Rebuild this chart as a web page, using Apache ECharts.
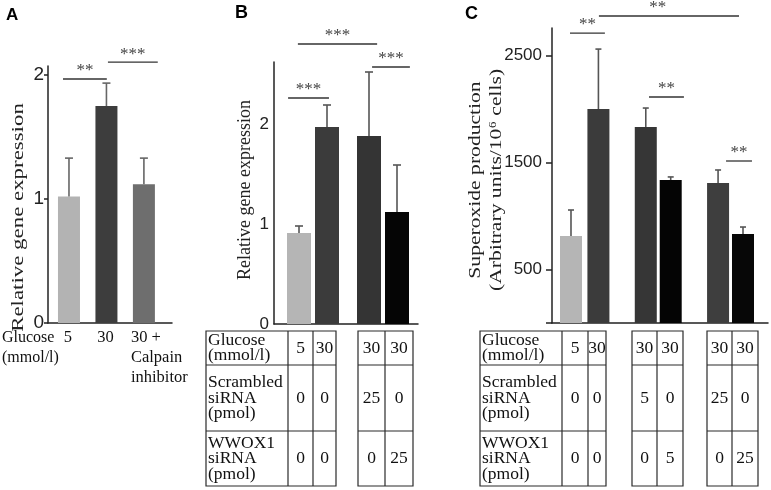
<!DOCTYPE html>
<html><head><meta charset="utf-8">
<script src="https://cdn.jsdelivr.net/npm/echarts@6/dist/echarts.min.js"></script>
<style>html,body{margin:0;padding:0;background:#fff}#c{width:771px;height:490px}</style>
</head><body><div id="c"></div>
<script>
// ================= DATA =================
// Panel A
const catA = ['5', '30', '30 +\nCalpain\ninhibitor'];
const meanA = [1.02, 1.75, 1.12];
const upperA = [1.33, 1.935, 1.33];
const ticksA = [0, 1, 2];
// Panel B
const meanB = [0.91, 1.97, 1.88, 1.12];
const upperB = [0.98, 2.19, 2.52, 1.59];
const ticksB = [0, 1, 2];
// Panel C
const meanC = [813, 2000, 1832, 1336, 1308, 832];
const upperC = [1056, 2560, 2009, 1365, 1430, 897];
const ticksC = [500, 1500, 2500];
// Tables
const rowLabels = ['Glucose\n(mmol/l)', 'Scrambled\nsiRNA\n(pmol)', 'WWOX1\nsiRNA\n(pmol)'];
const glucoseB = ['5', '30', '30', '30'];
const scrambledB = ['0', '0', '25', '0'];
const wwoxB = ['0', '0', '0', '25'];
const glucoseC = ['5', '30', '30', '30', '30', '30'];
const scrambledC = ['0', '0', '5', '0', '25', '0'];
const wwoxC = ['0', '0', '0', '5', '0', '25'];
// Significance marks
const sigTextA = ['**', '***'];
const sigTextB = ['***', '***', '***'];
const sigTextC = ['**', '**', '**', '**'];

// ================= LAYOUT / STYLE =================
const SERIF = '"Liberation Serif", "Times New Roman", serif';
const SANS = '"Liberation Sans", Arial, sans-serif';
const slotA = [0, 1, 2], slotB = [0, 1, 2.5, 3.5], slotC = [0, 1.1, 3, 4, 5.9, 6.9];
const colorsA = ['#b3b3b3', '#3d3d3d', '#6e6e6e'];
const colorsB = ['#b5b5b5', '#3b3b3b', '#343434', '#050505'];
const colorsC = ['#b5b5b5', '#3b3b3b', '#363636', '#040404', '#3e3e3e', '#070707'];
// bracket placement: [from, to, level, text position fraction]
const sigPosA = [[-0.16, 1.01, 1.968, 0.5], [1.04, 2.37, 2.105, 0.5]];
const sigPosB = [[-0.39, 1.07, 2.26, 0.5], [-0.04, 2.79, 2.80, 0.5], [2.61, 3.96, 2.57, 0.5]];
const sigPosC = [[-0.04, 1.36, 2710, 0.5], [1.12, 6.74, 2869, 0.42], [3.13, 4.53, 2112, 0.5], [6.22, 7.26, 1514, 0.5]];
// x-label nudges for panel A (pixels; third label is left-aligned block)
const labelAlignA = [['center', -1], ['center', -1], ['left', -13]];

function barSeries(gi, slots, means, colors, width) {
  return {type: 'bar', xAxisIndex: gi, yAxisIndex: gi, barWidth: width, silent: true,
    data: means.map((v, i) => ({value: [slots[i], v], itemStyle: {color: colors[i]}}))};
}
function errSeries(gi, slots, means, uppers, cap, color) {
  return {type: 'custom', xAxisIndex: gi, yAxisIndex: gi, clip: false, silent: true, z: 3,
    data: means.map((v, i) => [slots[i], v, uppers[i]]),
    renderItem: function (params, api) {
      const x = api.value(0);
      const a = api.coord([x, api.value(1)]);
      const b = api.coord([x, api.value(2)]);
      const st = {stroke: color, lineWidth: 1.6};
      return {type: 'group', children: [
        {type: 'line', shape: {x1: a[0], y1: a[1], x2: b[0], y2: b[1]}, style: st},
        {type: 'line', shape: {x1: b[0] - cap, y1: b[1], x2: b[0] + cap, y2: b[1]}, style: st}
      ]};
    }};
}
function sigSeries(gi, texts, pos) {
  return {type: 'custom', xAxisIndex: gi, yAxisIndex: gi, clip: false, silent: true, z: 4,
    data: pos.map(p => [(p[0] + p[1]) / 2, p[2]]),
    renderItem: function (params, api) {
      const p = pos[params.dataIndex];
      const a = api.coord([p[0], p[2]]), b = api.coord([p[1], p[2]]);
      const tx = a[0] + (b[0] - a[0]) * p[3];
      return {type: 'group', children: [
        {type: 'line', shape: {x1: a[0], y1: a[1], x2: b[0], y2: b[1]}, style: {stroke: '#333', lineWidth: 1.3}},
        {type: 'text', x: tx, y: a[1] - 8, style: {text: texts[params.dataIndex], fontSize: 17, fontFamily: SERIF,
          fill: '#444', align: 'center', verticalAlign: 'middle', textAlign: 'center', textVerticalAlign: 'middle'}}
      ]};
    }};
}
function xAxisCfg(gi, min, max) {
  return {gridIndex: gi, type: 'value', min: min, max: max, splitLine: {show: false},
    axisLine: {show: true, onZero: false, lineStyle: {color: '#222', width: 1.5}},
    axisTick: {show: false}, axisLabel: {show: false}};
}
function yAxisCfg(gi, max, ticks, tickVals, tickLen, margin, fs) {
  return {gridIndex: gi, type: 'value', min: 0, max: max, splitLine: {show: false},
    axisLine: {show: true, onZero: false, lineStyle: {color: '#222', width: 1.5}},
    axisTick: {show: tickLen > 0, length: tickLen, customValues: tickVals, lineStyle: {color: '#222', width: 1.5}},
    axisLabel: {customValues: ticks, margin: margin, fontSize: fs, fontFamily: SANS, color: '#222',
      formatter: function (v) { return String(v); }}};
}

function txt(x, y, text, opt) {
  const o = Object.assign({fs: 16, family: SERIF, weight: 'normal', align: 'left', va: 'middle', lh: 16,
    rot: 0, sx: 1, color: '#111'}, opt || {});
  return {type: 'text', x: x, y: y, rotation: o.rot, scaleX: o.sx, silent: true,
    style: {text: text, fontSize: o.fs, fontFamily: o.family, fontWeight: o.weight, fill: o.color,
      align: o.align, verticalAlign: o.va, textAlign: o.align, textVerticalAlign: o.va, lineHeight: o.lh}};
}

function tableGraphics(blocks, values) {
  const els = [];
  const rows = [331, 365, 431, 486];
  const st = {stroke: '#2a2a2a', lineWidth: 1.2};
  let col = 0;
  blocks.forEach((b, bi) => {
    const x0 = b[0], x1 = b[b.length - 1];
    els.push({type: 'rect', silent: true, shape: {x: x0, y: rows[0], width: x1 - x0, height: rows[3] - rows[0]},
      style: {stroke: '#2a2a2a', lineWidth: 1.2, fill: 'none'}});
    for (let k = 1; k < b.length - 1; k++)
      els.push({type: 'line', silent: true, shape: {x1: b[k], y1: rows[0], x2: b[k], y2: rows[3]}, style: st});
    for (let r = 1; r < 3; r++)
      els.push({type: 'line', silent: true, shape: {x1: x0, y1: rows[r], x2: x1, y2: rows[r]}, style: st});
    let start = 0;
    if (bi === 0) {
      rowLabels.forEach((t, r) => els.push(txt(x0 + 2, (rows[r] + rows[r + 1]) / 2, t, {lh: 15.5, fs: 17.5})));
      start = 1;
    }
    for (let k = start; k < b.length - 1; k++) {
      const cx = (b[k] + b[k + 1]) / 2;
      values.forEach((arr, r) => els.push(txt(cx, (rows[r] + rows[r + 1]) / 2, arr[col], {align: 'center', fs: 17.5})));
      col++;
    }
  });
  return els;
}

const graphics = [].concat(
  [txt(6, 15, 'A', {family: SANS, weight: 'bold', fs: 17, color: '#000'}),
   txt(235, 13, 'B', {family: SANS, weight: 'bold', fs: 18, color: '#000'}),
   txt(465, 14, 'C', {family: SANS, weight: 'bold', fs: 18, color: '#000'}),
   txt(18.5, 217.5, 'Relative gene expression', {rot: Math.PI / 2, align: 'center', fs: 16, sx: 1.43, color: '#222'}),
   txt(245, 190, 'Relative gene expression', {rot: Math.PI / 2, align: 'center', fs: 18, sx: 1.0, color: '#222'}),
   txt(486, 180, 'Superoxide production\n(Arbitrary units/10\u2076 cells)', {rot: Math.PI / 2, align: 'center', fs: 17, sx: 1.27, lh: 20.5, color: '#222'}),
   txt(2, 328, 'Glucose\n(mmol/l)', {va: 'top', lh: 20, fs: 16})],
  tableGraphics([[206, 288, 313, 336], [358, 385, 413]], [glucoseB, scrambledB, wwoxB]),
  tableGraphics([[480, 562, 588, 606], [632, 657, 683], [707, 732, 758]], [glucoseC, scrambledC, wwoxC])
);

const option = {
  animation: false,
  backgroundColor: '#fff',
  grid: [
    {left: 48, top: 66, width: 124, height: 257, outerBoundsMode: 'none'},
    {left: 274, top: 62, width: 144, height: 262, outerBoundsMode: 'none'},
    {left: 552, top: 28, width: 216, height: 295, outerBoundsMode: 'none'}
  ],
  xAxis: [xAxisCfg(0, -0.56, 2.75), xAxisCfg(1, -0.893, 4.25), xAxisCfg(2, -0.762, 7.903)],
  yAxis: [
    yAxisCfg(0, 2.073, ticksA, ticksA, 4, 4, 19),
    yAxisCfg(1, 2.62, ticksB, ticksB, 0, 5, 17),
    yAxisCfg(2, 2757, ticksC, [0].concat(ticksC), 6, 10, 17)
  ],
  series: [
    barSeries(0, slotA, meanA, colorsA, 22),
    barSeries(1, slotB, meanB, colorsB, 24),
    barSeries(2, slotC, meanC, colorsC, 22),
    errSeries(0, slotA, meanA, upperA, 4, '#666'),
    errSeries(1, slotB, meanB, upperB, 4, '#555'),
    errSeries(2, slotC, meanC, upperC, 3, '#555'),
    sigSeries(0, sigTextA, sigPosA),
    sigSeries(1, sigTextB, sigPosB),
    sigSeries(2, sigTextC, sigPosC)
  ],
  graphic: {elements: graphics}
};
const chart = echarts.init(document.getElementById('c'));
chart.setOption(option);

// Panel A category labels, positioned through the x axis scale
const baseY = chart.convertToPixel({yAxisIndex: 0}, 0);
const catEls = catA.map(function (t, i) {
  const px = chart.convertToPixel({xAxisIndex: 0}, slotA[i]) + labelAlignA[i][1];
  return txt(px, baseY + 5, t, {va: 'top', lh: 20, fs: 16.5, align: labelAlignA[i][0]});
});
chart.setOption({graphic: {elements: graphics.concat(catEls)}});
</script>
</body></html>
